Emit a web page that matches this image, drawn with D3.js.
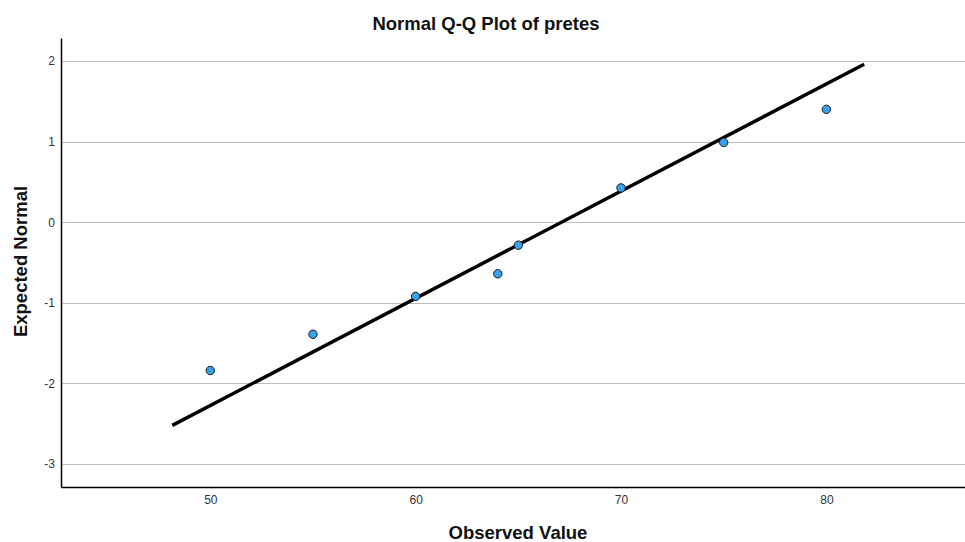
<!DOCTYPE html>
<html><head><meta charset="utf-8">
<script src="https://cdn.jsdelivr.net/npm/d3@7"></script>
<style>body{margin:0;background:#fff;}svg{display:block;font-family:"Liberation Sans",Arial,sans-serif;}</style>
</head><body>
<svg id="c" width="965" height="542"></svg>
<script>
const observed = [50, 55, 60, 64, 65, 70, 75, 80];
const expected = [-1.84, -1.39, -0.92, -0.64, -0.285, 0.425, 0.99, 1.40];
const lineX = [48.15, 81.84];
const lineY = [-2.52, 1.96];
const xTicks = [50, 60, 70, 80];
const yTicks = [-3, -2, -1, 0, 1, 2];
const title = "Normal Q-Q Plot of pretes";
const xTitle = "Observed Value";
const yTitle = "Expected Normal";

const svg = d3.select("#c");
const L = 61, R = 965, T = 38, B = 487;
const x = d3.scaleLinear().domain([42.73, 86.75]).range([L, R]);
const y = d3.scaleLinear().domain([-3.285, 2.285]).range([B, T]);
const fmt = d => String(d);

// gridlines
svg.append("g").selectAll("line").data(yTicks).join("line")
  .attr("x1", L).attr("x2", R)
  .attr("y1", d => Math.round(y(d)) + 0.5).attr("y2", d => Math.round(y(d)) + 0.5)
  .attr("stroke", "#bdbdbd").attr("stroke-width", 1);

// y axis
const ya = svg.append("g").attr("transform", `translate(${L},0)`)
  .call(d3.axisLeft(y).tickValues(yTicks).tickSize(0).tickPadding(6).tickFormat(fmt));
ya.select(".domain").attr("stroke", "#000").attr("stroke-width", 1.5);
ya.selectAll("text").attr("font-size", 12).attr("fill", "#333").attr("font-family", "Liberation Sans, Arial, sans-serif");

// x axis
const xa = svg.append("g").attr("transform", `translate(0,${B})`)
  .call(d3.axisBottom(x).tickValues(xTicks).tickSize(0).tickPadding(8).tickFormat(fmt));
xa.select(".domain").attr("stroke", "#000").attr("stroke-width", 1.5);
xa.selectAll("text").attr("font-size", 12).attr("fill", "#333").attr("font-family", "Liberation Sans, Arial, sans-serif");

// reference line
svg.append("line")
  .attr("x1", x(lineX[0])).attr("y1", y(lineY[0]))
  .attr("x2", x(lineX[1])).attr("y2", y(lineY[1]))
  .attr("stroke", "#000").attr("stroke-width", 3.5);

// points
svg.append("g").selectAll("circle").data(observed).join("circle")
  .attr("cx", d => x(d)).attr("cy", (d, i) => y(expected[i]))
  .attr("r", 4.2).attr("fill", "#35a3ee").attr("stroke", "#1a1a1a").attr("stroke-width", 1);

// titles
svg.append("text").attr("x", 486).attr("y", 30).attr("text-anchor", "middle")
  .attr("font-size", 18.5).attr("font-weight", "bold").attr("fill", "#111").text(title);
svg.append("text").attr("x", 518).attr("y", 539).attr("text-anchor", "middle")
  .attr("font-size", 18.5).attr("font-weight", "bold").attr("fill", "#111").text(xTitle);
svg.append("text").attr("transform", "translate(27,261.5) rotate(-90)").attr("text-anchor", "middle")
  .attr("font-size", 18.5).attr("font-weight", "bold").attr("fill", "#111").text(yTitle);
</script>
</body></html>
